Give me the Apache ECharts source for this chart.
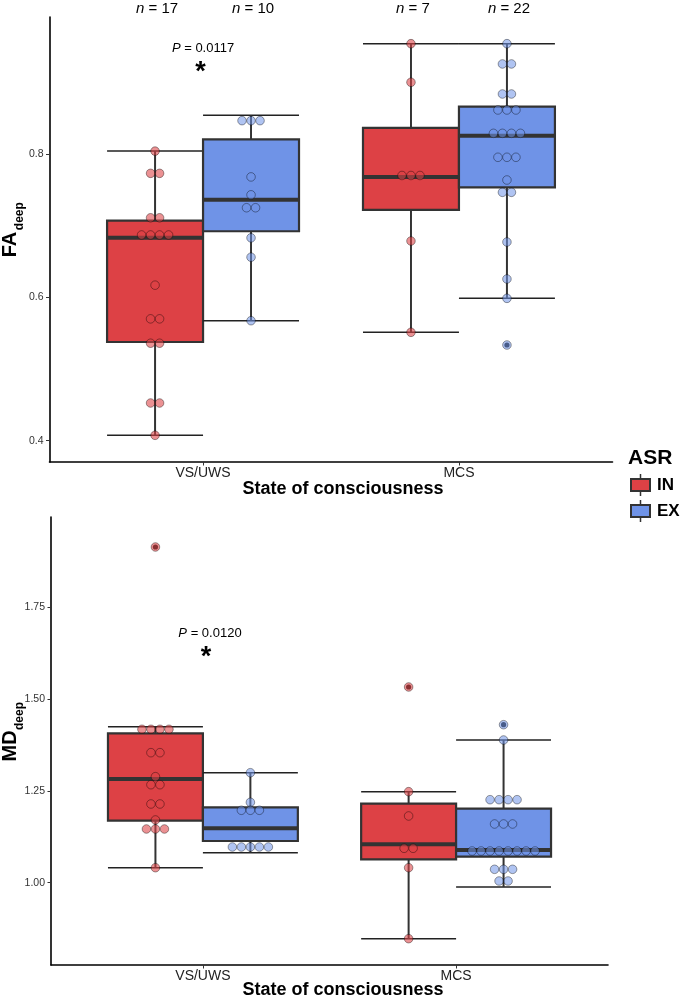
<!DOCTYPE html>
<html><head><meta charset="utf-8">
<script src="https://cdn.jsdelivr.net/npm/echarts@6/dist/echarts.min.js"></script>
<style>html,body{margin:0;padding:0;background:#fff}#c{width:684px;height:1000px}</style>
</head><body><div id="c"></div>
<script>
// ---------- data ----------
const categories = ['VS/UWS', 'MCS'];
const groups = ['IN', 'EX'];
const legendTitle = 'ASR';
const xTitle = 'State of consciousness';
const faTicks = [0.4, 0.6, 0.8];
const mdTicks = [1.00, 1.25, 1.50, 1.75];
const pValues = ['0.0117', '0.0120'];

// FA deep – individual subjects (dot plot)
const faVsIn  = [0.804, 0.773, 0.773, 0.711, 0.711, 0.687, 0.687, 0.687, 0.687, 0.617, 0.570, 0.570, 0.536, 0.536, 0.4526, 0.4526, 0.4075];
const faVsEx  = [0.8465, 0.8465, 0.8465, 0.768, 0.743, 0.725, 0.725, 0.683, 0.656, 0.5674];
const faMcsIn = [0.9539, 0.900, 0.770, 0.770, 0.770, 0.6786, 0.5512];
const faMcsEx = [0.9539, 0.9256, 0.9256, 0.8837, 0.8837, 0.8614, 0.8614, 0.8614, 0.8288, 0.8288, 0.8288, 0.8288,
                 0.7954, 0.7954, 0.7954, 0.7637, 0.7465, 0.7465, 0.6772, 0.6256, 0.5986, 0.5335];
// FA deep – box statistics [lower whisker, Q1, median, Q3, upper whisker]
const faBoxVsIn  = [0.4075, 0.5377, 0.6832, 0.7069, 0.8042];
const faBoxVsEx  = [0.5674, 0.6922, 0.7362, 0.8205, 0.8540];
const faBoxMcsIn = [0.5512, 0.7219, 0.7679, 0.8363, 0.9539];
const faBoxMcsEx = [0.5987, 0.7535, 0.8255, 0.8660, 0.9539];

// MD deep – individual subjects
const mdVsIn  = [1.9132, 1.4173, 1.4173, 1.4173, 1.4173, 1.3537, 1.3537, 1.2884, 1.2666, 1.2666, 1.2141, 1.2141,
                 1.1706, 1.1461, 1.1461, 1.1461, 1.0408];
const mdVsEx  = [1.2992, 1.2187, 1.1970, 1.1970, 1.1970, 1.0971, 1.0971, 1.0971, 1.0971, 1.0971];
const mdMcsIn = [1.5324, 1.2476, 1.1815, 1.0936, 1.0936, 1.0408, 0.8477];
const mdMcsEx = [1.4298, 1.3882, 1.2258, 1.2258, 1.2258, 1.2258, 1.1597, 1.1597, 1.1597,
                 1.0862, 1.0862, 1.0862, 1.0862, 1.0862, 1.0862, 1.0862, 1.0862, 1.0364, 1.0364, 1.0364, 1.0046, 1.0046];
const mdBoxVsIn  = [1.0408, 1.1687, 1.2821, 1.4064, 1.4244];
const mdBoxVsEx  = [1.0816, 1.1134, 1.1480, 1.2051, 1.2992];
const mdBoxMcsIn = [0.8477, 1.0637, 1.1045, 1.2149, 1.2476];
const mdBoxMcsEx = [0.9883, 1.0707, 1.0889, 1.2013, 1.3882];

// ---------- styling ----------
const FONT = '"Liberation Sans", Arial, Helvetica, sans-serif';
const FILL = ['#DD4145', '#6F93E7'];
const DOT_FILL = ['rgba(221,65,69,0.58)', 'rgba(111,147,231,0.55)'];
const DODGE = [-0.1875, 0.1875];
const BOXW = 0.375;
const DOT_R = 4.3;
const DOT_STEP = 9;

const panels = [
  { values: [[faVsIn, faVsEx], [faMcsIn, faMcsEx]], boxes: [[faBoxVsIn, faBoxVsEx], [faBoxMcsIn, faBoxMcsEx]],
    ticks: faTicks, digits: 1, min: 0.3703, max: 0.9911 },
  { values: [[mdVsIn, mdVsEx], [mdMcsIn, mdMcsEx]], boxes: [[mdBoxVsIn, mdBoxVsEx], [mdBoxMcsIn, mdBoxMcsEx]],
    ticks: mdTicks, digits: 2, min: 0.7761, max: 1.9948 }
];

function renderBox(params, api) {
  const c = api.value(0), g = api.value(1);
  const xc = c + DODGE[g];
  const P = v => api.coord([xc, v]);
  const yLow = P(api.value(2))[1], yQ1 = P(api.value(3))[1], yMed = P(api.value(4))[1],
        yQ3 = P(api.value(5))[1], yHigh = P(api.value(6))[1];
  const x = P(api.value(4))[0];
  const half = api.size([BOXW, 0])[0] / 2;
  const dark = '#333';
  return { type: 'group', children: [
    { type: 'line', shape: { x1: x - half, y1: yHigh, x2: x + half, y2: yHigh }, style: { stroke: '#222', lineWidth: 1.5 } },
    { type: 'line', shape: { x1: x - half, y1: yLow, x2: x + half, y2: yLow }, style: { stroke: '#222', lineWidth: 1.5 } },
    { type: 'line', shape: { x1: x, y1: yQ3, x2: x, y2: yHigh }, style: { stroke: dark, lineWidth: 2 } },
    { type: 'line', shape: { x1: x, y1: yQ1, x2: x, y2: yLow }, style: { stroke: dark, lineWidth: 2 } },
    { type: 'rect', shape: { x: x - half, y: yQ3, width: 2 * half, height: yQ1 - yQ3 }, style: { fill: FILL[g], stroke: dark, lineWidth: 2.2 } },
    { type: 'line', shape: { x1: x - half, y1: yMed, x2: x + half, y2: yMed }, style: { stroke: dark, lineWidth: 4 } }
  ]};
}
function renderDot(params, api) {
  const p = api.coord([api.value(0), api.value(1)]);
  const g = api.value(3);
  return { type: 'circle', shape: { cx: p[0] + api.value(2) * DOT_STEP, cy: p[1], r: DOT_R },
           style: { fill: DOT_FILL[g], stroke: 'rgba(0,0,0,0.42)', lineWidth: 0.9 } };
}
function renderOutlier(params, api) {
  const p = api.coord([api.value(0), api.value(1)]);
  return { type: 'circle', shape: { cx: p[0], cy: p[1], r: 2.6 }, style: { fill: '#1a1a1a' } };
}

const grids = [
  { left: 49.5, top: 17, width: 563, height: 445 },
  { left: 51, top: 517, width: 557, height: 448 }
];
const xAxes = [], yAxes = [], series = [];
panels.forEach((pn, i) => {
  xAxes.push({
    gridIndex: i, type: 'value', min: 0.4, max: 2.6,
    splitLine: { show: false },
    axisLine: { show: true, onZero: false, lineStyle: { color: '#000', width: 1.6 } },
    axisTick: { show: true, customValues: [1, 2], length: 3.5, lineStyle: { color: '#333', width: 1 } },
    axisLabel: { customValues: [1, 2], formatter: v => categories[Math.round(v) - 1], color: '#222',
                 fontSize: 14, fontFamily: FONT, margin: 4 }
  });
  yAxes.push({
    gridIndex: i, type: 'value', min: pn.min, max: pn.max,
    splitLine: { show: false },
    axisLine: { show: true, onZero: false, lineStyle: { color: '#000', width: 1.6 } },
    axisTick: { show: true, customValues: pn.ticks, length: 3.5, lineStyle: { color: '#333', width: 1 } },
    axisLabel: { customValues: pn.ticks, formatter: v => v.toFixed(pn.digits), color: '#333',
                 fontSize: 10.5, fontFamily: FONT, margin: 6 }
  });
  const boxData = [], dotData = [], outData = [];
  pn.values.forEach((pair, c) => pair.forEach((vals, g) => {
    const b = pn.boxes[c][g];
    boxData.push([c + 1, g].concat(b));
    const counts = {}, seen = {};
    vals.forEach(v => { const k = v.toFixed(4); counts[k] = (counts[k] || 0) + 1; });
    vals.forEach(v => {
      const k = v.toFixed(4); const n = counts[k]; const idx = (seen[k] = (seen[k] || 0) + 1) - 1;
      dotData.push([c + 1 + DODGE[g], v, idx - (n - 1) / 2, g]);
      if (v > b[4] + 0.005 || v < b[0] - 0.005) outData.push([c + 1 + DODGE[g], v]);
    });
  }));
  series.push({ type: 'custom', xAxisIndex: i, yAxisIndex: i, renderItem: renderBox, data: boxData,
                encode: { x: 0, y: 4 }, z: 2, silent: true });
  series.push({ type: 'custom', xAxisIndex: i, yAxisIndex: i, renderItem: renderOutlier, data: outData,
                encode: { x: 0, y: 1 }, z: 3, silent: true });
  series.push({ type: 'custom', xAxisIndex: i, yAxisIndex: i, renderItem: renderDot, data: dotData,
                encode: { x: 0, y: 1 }, z: 4, silent: true });
});

const chart = echarts.init(document.getElementById('c'), null, { renderer: 'canvas', width: 684, height: 1000 });
chart.setOption({ animation: false, backgroundColor: '#fff', grid: grids, xAxis: xAxes, yAxis: yAxes, series: series });

// ---------- annotations ----------
const px = (i, x, y) => chart.convertToPixel({ xAxisIndex: i, yAxisIndex: i }, [x, y]);
const graphics = [];
// n = counts over top panel
panels[0].values.forEach((pair, c) => pair.forEach((vals, g) => {
  const x = px(0, c + 1 + DODGE[g], 0.8)[0];
  graphics.push({ type: 'text', x: x + 2, y: 9, z: 10, style: {
    text: '{i|n}{r| = ' + vals.length + '}', align: 'center', verticalAlign: 'middle',
    fontSize: 15, fontFamily: FONT, fill: '#000',
    rich: { i: { fontStyle: 'italic', fontSize: 15, fontFamily: FONT, fill: '#000' },
            r: { fontSize: 15, fontFamily: FONT, fill: '#000' } } } });
}));
// P values and stars
const pPos = [ { i: 0, x: 1.0, y: 0.9479, sx: 0.99, sy: 0.9214 }, { i: 1, x: 1.028, y: 1.6793, sx: 1.012, sy: 1.6276 } ];
pPos.forEach((a, k) => {
  const p = px(a.i, a.x, a.y), s = px(a.i, a.sx, a.sy);
  graphics.push({ type: 'text', x: p[0], y: p[1], z: 10, style: {
    text: '{i|P}{r| = ' + pValues[k] + '}', align: 'center', verticalAlign: 'middle',
    fontSize: 13, fontFamily: FONT, fill: '#000',
    rich: { i: { fontStyle: 'italic', fontSize: 13, fontFamily: FONT, fill: '#000' },
            r: { fontSize: 13, fontFamily: FONT, fill: '#000' } } } });
  graphics.push({ type: 'text', x: s[0], y: s[1] + 6, z: 10, style: {
    text: '*', align: 'center', verticalAlign: 'middle', fontSize: 27, fontWeight: 'bold', fontFamily: FONT, fill: '#000' } });
});
// x titles
[489, 990].forEach(y => graphics.push({ type: 'text', x: 343, y: y, z: 10, style: {
  text: xTitle, align: 'center', verticalAlign: 'middle', fontSize: 18, fontWeight: 'bold', fontFamily: FONT, fill: '#000' } }));
// y titles with subscript
[['FA', 230], ['MD', 732]].forEach(([t, y]) => {
  const mainW = t === 'FA' ? 26.7 : 31;
  const total = mainW + 28;
  graphics.push({ type: 'group', x: 10, y: y, rotation: Math.PI / 2, z: 10, children: [
    { type: 'text', x: -total / 2, y: 0, style: { text: t, align: 'left', verticalAlign: 'middle',
      fontSize: 20, fontWeight: 'bold', fontFamily: FONT, fill: '#000' } },
    { type: 'text', x: -total / 2 + mainW + 0.5, y: 10, style: { text: 'deep', align: 'left', verticalAlign: 'middle',
      fontSize: 12, fontWeight: 'bold', fontFamily: FONT, fill: '#000' } }
  ]});
});
// legend
graphics.push({ type: 'text', x: 628, y: 458, z: 10, style: { text: legendTitle, align: 'left', verticalAlign: 'middle',
  fontSize: 21, fontWeight: 'bold', fontFamily: FONT, fill: '#000' } });
groups.forEach((name, g) => {
  const cy = 485 + g * 26;
  graphics.push({ type: 'line', z: 10, shape: { x1: 640.5, y1: cy - 11, x2: 640.5, y2: cy + 11 }, style: { stroke: '#333', lineWidth: 1.5 } });
  graphics.push({ type: 'rect', z: 11, shape: { x: 631, y: cy - 6, width: 19, height: 12 }, style: { fill: FILL[g], stroke: '#333', lineWidth: 2 } });
  graphics.push({ type: 'text', x: 657, y: cy, z: 10, style: { text: name, align: 'left', verticalAlign: 'middle',
    fontSize: 17, fontWeight: 'bold', fontFamily: FONT, fill: '#000' } });
});
chart.setOption({ graphic: graphics });
</script>
</body></html>
